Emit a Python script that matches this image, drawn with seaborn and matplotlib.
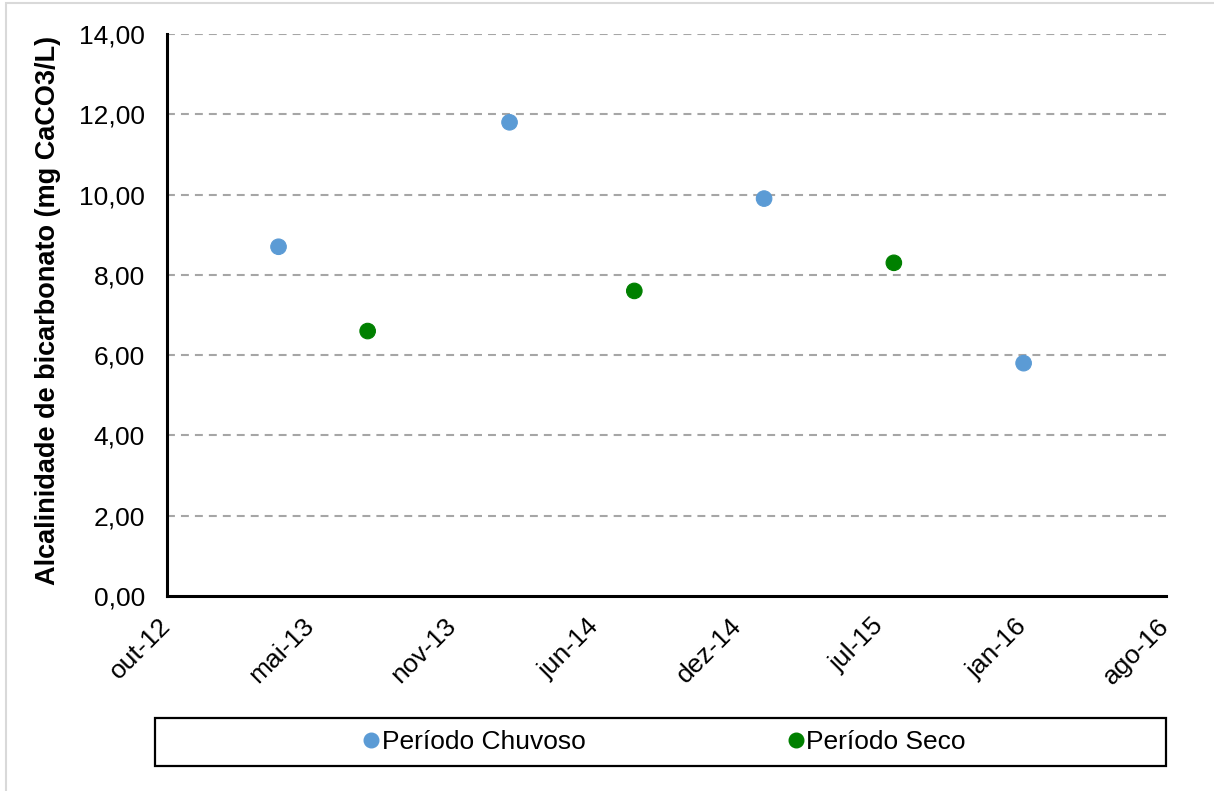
import matplotlib
matplotlib.use("Agg")
import matplotlib.pyplot as plt
import matplotlib.dates as mdates
from matplotlib.lines import Line2D
from matplotlib.patches import Rectangle
import pandas as pd
import seaborn as sns

# Sampling campaigns and bicarbonate alkalinity (mg CaCO3/L)
sample_dates = ["2013-03-20", "2013-07-23", "2014-02-07", "2014-08-01",
                "2015-01-30", "2015-07-31", "2016-01-29"]
alkalinity = [8.70, 6.60, 11.80, 7.60, 9.90, 8.30, 5.80]
season = ["Período Chuvoso", "Período Seco", "Período Chuvoso", "Período Seco",
          "Período Chuvoso", "Período Seco", "Período Chuvoso"]

season_order = ["Período Chuvoso", "Período Seco"]
season_colors = ["#5B9BD5", "#008000"]

x_tick_labels = ["out-12", "mai-13", "nov-13", "jun-14", "dez-14",
                 "jul-15", "jan-16", "ago-16"]
y_ticks = [0, 2, 4, 6, 8, 10, 12, 14]

df = pd.DataFrame({"data": pd.to_datetime(sample_dates),
                   "alcalinidade": alkalinity,
                   "periodo": season})

sns.set_style("white")
plt.rcParams["font.family"] = ["Liberation Sans", "DejaVu Sans"]
plt.rcParams["text.color"] = "black"
plt.rcParams["axes.labelcolor"] = "black"
plt.rcParams["xtick.color"] = "black"
plt.rcParams["ytick.color"] = "black"

W, H = 1214, 791
fig = plt.figure(figsize=(W / 100, H / 100), dpi=100)
ax = fig.add_axes([167.3 / W, 1 - 596 / H, (1165.5 - 167.3) / W, (596 - 34) / H])

palette = dict(zip(season_order, season_colors))
sns.scatterplot(data=df, x="data", y="alcalinidade", hue="periodo",
                hue_order=season_order, palette=palette, s=125,
                linewidth=0.8, edgecolor=None, legend=False, ax=ax, zorder=3)
for coll in ax.collections:
    coll.set_edgecolor(coll.get_facecolor())

# Date axis: 200-day major unit starting mid-October 2012
tick_dates = pd.date_range("2012-10-15", periods=len(x_tick_labels), freq="200D")
ax.set_xlim(mdates.date2num(tick_dates[0]), mdates.date2num(tick_dates[-1]))
ax.set_xticks(mdates.date2num(tick_dates))
ax.set_xticklabels(x_tick_labels, rotation=45, ha="right", va="center",
                   rotation_mode="anchor", fontsize=19)

ax.set_ylim(0, 14)
ax.set_yticks(y_ticks)
ax.set_yticklabels([f"{v:.2f}".replace(".", ",") for v in y_ticks], fontsize=19)

ax.tick_params(axis="both", length=0)
ax.tick_params(axis="y", pad=16)
ax.tick_params(axis="x", pad=19)

ax.set_xlabel("")
ax.set_ylabel("Alcalinidade de bicarbonato (mg CaCO3/L)", fontsize=19.5,
              fontweight="bold")
ax.yaxis.set_label_coords(-0.106, 0.508)

for y in y_ticks[1:]:
    ax.axhline(y, color="#A6A6A6", lw=1.5, ls=(0, (3.8, 2.9)), zorder=1)

for side in ("top", "right"):
    ax.spines[side].set_visible(False)
for side in ("left", "bottom"):
    ax.spines[side].set_color("black")
    ax.spines[side].set_linewidth(2.2)

# Outer chart border
fig.patches.append(Rectangle((6 / W, -0.05), 1.1, 1 - 3 / H + 0.05,
                             transform=fig.transFigure, fill=False,
                             edgecolor="#D9D9D9", lw=1.5))

# Legend box below the axes
fig.patches.append(Rectangle((155 / W, 1 - 766 / H), (1166 - 155) / W, (766 - 718) / H,
                             transform=fig.transFigure, fill=False,
                             edgecolor="black", lw=1.6))
handles = [Line2D([], [], ls="none", marker="o", markersize=10.5,
                  markerfacecolor=c, markeredgecolor=c) for c in season_colors]
fig.legend(handles, season_order, loc="center", ncol=2,
           bbox_to_anchor=(665 / W, 1 - 742 / H), frameon=False, fontsize=19,
           handlelength=0.55, handletextpad=0.12, columnspacing=7.7,
           borderpad=0)

fig.savefig("out.png", dpi=100, facecolor="white")
